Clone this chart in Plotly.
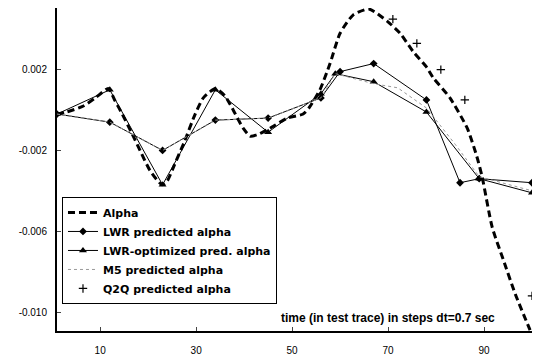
import plotly.graph_objects as go

# Alpha (actual)
alpha_x = [1, 3, 6.5, 9, 11.7, 13, 14.6, 16.7, 18.3, 20.4, 22.9, 24, 25.5, 27.5, 29.8, 31.5, 34, 36, 37.5,
           39.8, 41.3, 43, 45.4, 49, 52.3, 53.5, 55.8, 57.9, 60, 62.7, 66, 69.8, 72.5, 75.2, 78.1, 79.4,
           82.9, 86.5, 88.5, 89.6, 91.7, 94, 96.5, 99.6]
alpha_y = [-0.0002, -0.0001, 0.0002, 0.0006, 0.00106, 0.0005, -0.0002, -0.0012, -0.0020, -0.0030, -0.0037,
           -0.0035, -0.0027, -0.0016, -0.0002, 0.0006, 0.00106, 0.0007, 0.0001, -0.0009, -0.0013, -0.0012,
           -0.0009, -0.0004, -0.0002, 0.0001, 0.0010, 0.0023, 0.0038, 0.0047, 0.0050, 0.0044, 0.0038, 0.0029,
           0.0021, 0.0016, 0.0006, -0.0009, -0.0023, -0.0033, -0.0058, -0.0074, -0.0091, -0.0109]

# LWR predicted alpha
lwr_x = [1, 12, 23, 34, 45, 56, 60, 67, 78, 85, 89, 100]
lwr_y = [-0.0002, -0.0006, -0.0020, -0.0005, -0.0004, 0.0006, 0.0019, 0.0023, 0.0005, -0.0036, -0.0034, -0.0036]

# LWR-optimized predicted alpha
lwro_x = [1, 12, 23, 34, 45, 56, 59, 67, 78, 89, 100]
lwro_y = [-0.0002, 0.0010, -0.0037, 0.0010, -0.0011, 0.0008, 0.0018, 0.0014, -0.0001, -0.0034, -0.0041]

# M5 predicted alpha
m5_x = [1, 12, 23, 34, 45, 56, 59, 67, 72, 78, 84, 89, 100]
m5_y = [-0.0002, -0.0006, -0.0020, -0.0005, -0.0004, 0.0006, 0.0018, 0.0013, 0.0011, 0.0001, -0.0017, -0.0033, -0.0040]

# Q2Q predicted alpha
q2q_x = [71, 76, 81, 86, 100]
q2q_y = [0.0045, 0.0033, 0.0020, 0.0005, -0.0092]

y_tickvals = [0.002, -0.002, -0.006, -0.010]
y_ticktext = ["0.002", "-0.002", "-0.006", "-0.010"]
x_tickvals = [10, 30, 50, 70, 90]

FONT = "Liberation Sans, Arial"

fig = go.Figure()
fig.add_trace(go.Scatter(x=alpha_x, y=alpha_y, mode="lines", name="<b>Alpha</b>",
                         line=dict(color="black", width=3, dash="7px,4px", shape="spline", smoothing=0.6)))
fig.add_trace(go.Scatter(x=lwr_x, y=lwr_y, mode="lines+markers", name="<b>LWR predicted alpha</b>",
                         line=dict(color="black", width=1),
                         marker=dict(symbol="diamond", size=6, color="black")))
fig.add_trace(go.Scatter(x=lwro_x, y=lwro_y, mode="lines+markers", name="<b>LWR-optimized pred. alpha</b>",
                         line=dict(color="black", width=1),
                         marker=dict(symbol="triangle-up", size=7, color="black")))
fig.add_trace(go.Scatter(x=m5_x, y=m5_y, mode="lines", name="<b>M5 predicted alpha</b>",
                         line=dict(color="#999999", width=1, dash="dot")))
fig.add_trace(go.Scatter(x=q2q_x, y=q2q_y, mode="markers", name="<b>Q2Q predicted alpha</b>",
                         marker=dict(symbol="cross-thin", size=6, color="black",
                                     line=dict(color="black", width=1.2))))

fig.add_annotation(x=70, y=-0.0103, text="<b>time (in test trace) in steps dt=0.7 sec</b>",
                   showarrow=False, font=dict(family=FONT, size=12, color="black"))

fig.update_layout(
    width=534, height=352,
    margin=dict(l=49, r=10, t=0, b=29),
    paper_bgcolor="white", plot_bgcolor="white",
    font=dict(family=FONT, color="black", size=10),
    showlegend=True,
    legend=dict(x=0.0105, y=0.415, xanchor="left", yanchor="top",
                bordercolor="black", borderwidth=1, bgcolor="white",
                font=dict(size=11, family="DejaVu Sans"),
                tracegroupgap=0, itemwidth=30),
)
fig.update_xaxes(range=[1, 100], tickvals=x_tickvals, ticks="inside", ticklen=4,
                 showline=True, linecolor="black", linewidth=2, showgrid=False, zeroline=False,
                 tickfont=dict(size=10), ticklabelstandoff=9)
fig.update_yaxes(range=[-0.01094, 0.00505], tickvals=y_tickvals, ticktext=y_ticktext,
                 ticks="inside", ticklen=4, showline=True, linecolor="black", linewidth=2,
                 showgrid=False, zeroline=False, tickfont=dict(size=10), ticklabelstandoff=6)

fig.write_html("out.html")
